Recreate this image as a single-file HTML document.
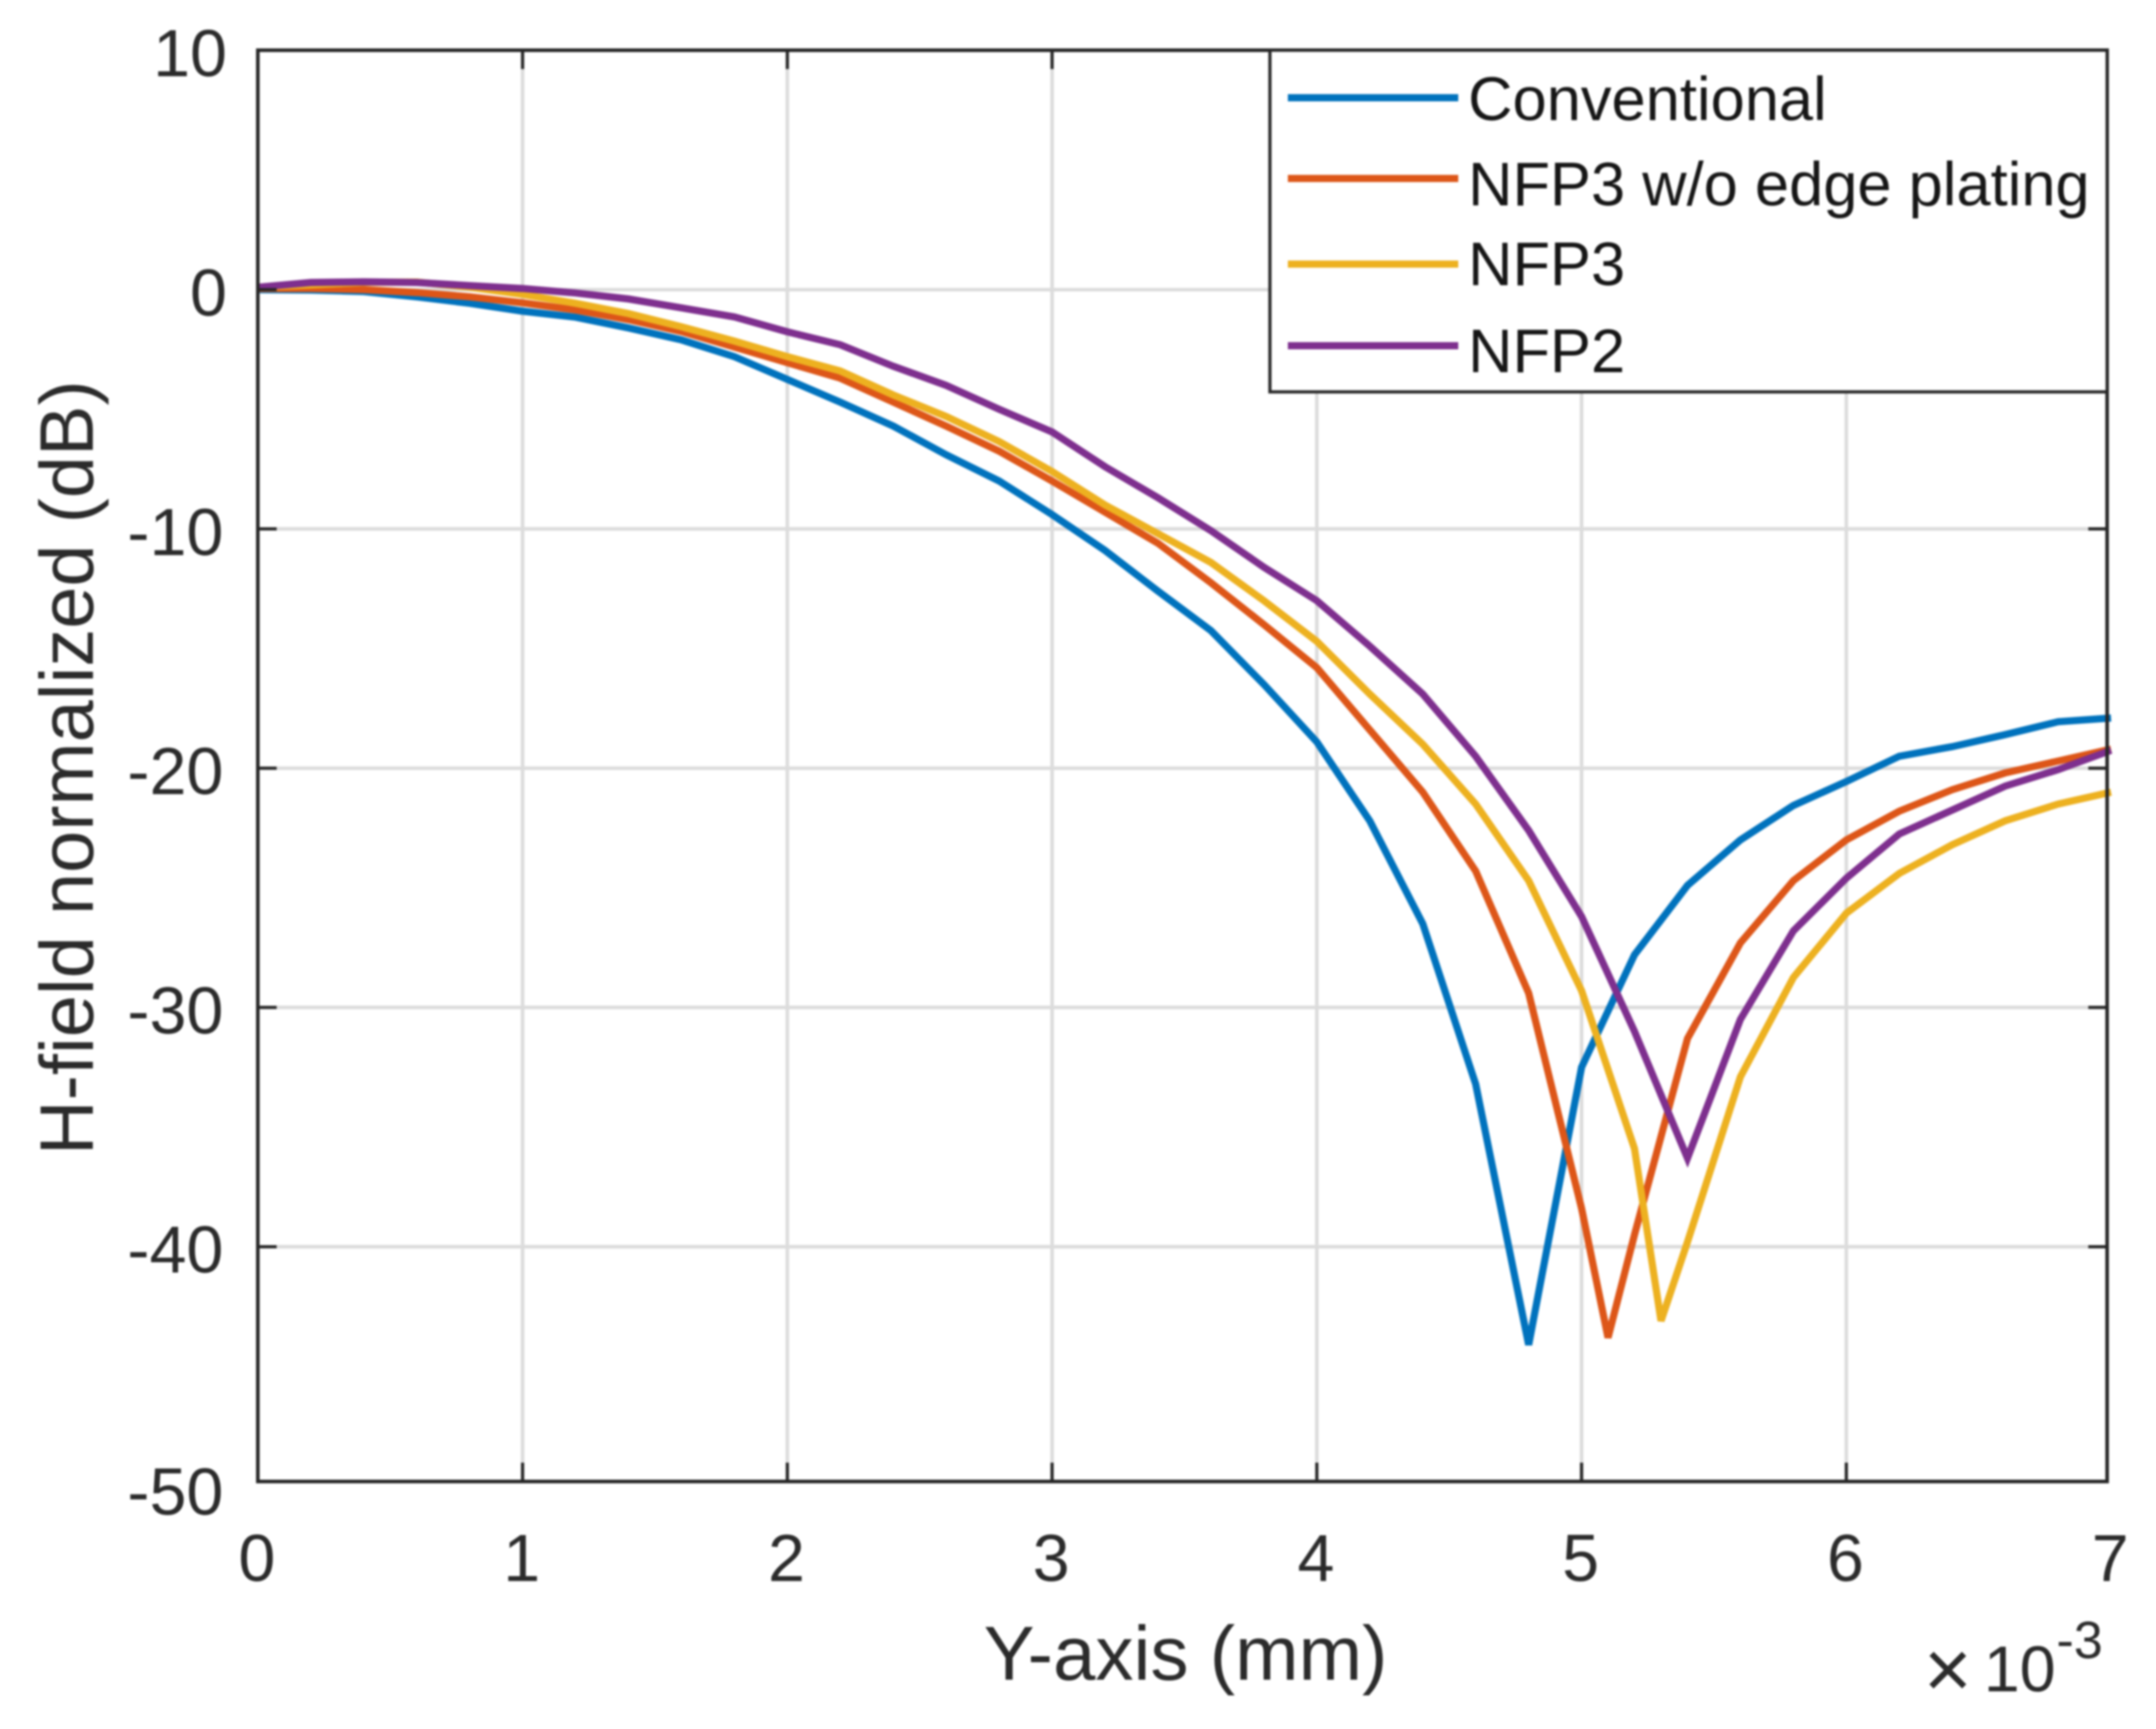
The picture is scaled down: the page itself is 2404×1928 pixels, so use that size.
<!DOCTYPE html>
<html lang="en">
<head>
<meta charset="utf-8">
<title>H-field normalized vs Y-axis</title>
<style>
html,body{margin:0;padding:0;background:#fff;width:2404px;height:1928px;overflow:hidden}
svg{display:block;filter:blur(1px)}
text{font-family:"Liberation Sans",Arial,sans-serif;fill:#2b2b2b;font-variant-ligatures:none}
</style>
</head>
<body>
<svg id="chart" xmlns="http://www.w3.org/2000/svg" width="2404" height="1928" viewBox="0 0 2404 1928">
  <rect x="0" y="0" width="2404" height="1928" fill="#ffffff"/>
  <g id="grid"></g>
  <g id="series"></g>
  <g id="ticks"></g>
  <rect x="287.5" y="56" width="2062" height="1596" fill="none" stroke="#262626" stroke-width="4"/>
  <g id="xlabels"></g>
  <g id="ylabels"></g>
  <text x="1322" y="1873" font-size="85" text-anchor="middle">Y-axis (mm)</text>
  <text transform="translate(103.5 856) rotate(-90)" font-size="84.5" text-anchor="middle">H-field normalized (dB)</text>
  <g>
    <text x="2145" y="1893" font-size="92" fill="#555">×</text>
    <text x="2212" y="1886" font-size="72">10</text>
    <text x="2293" y="1849" font-size="58">-3</text>
  </g>
  <g id="legend">
    <rect x="1416" y="56" width="933.5" height="381" fill="#ffffff" stroke="#262626" stroke-width="3.5"/>
  </g>
</svg>
<script>
// Tick labels
var xTickValues = [0, 1, 2, 3, 4, 5, 6, 7];
var yTickValues = [10, 0, -10, -20, -30, -40, -50];

// Series names and colours
var seriesNames = ["Conventional", "NFP3 w/o edge plating", "NFP3", "NFP2"];
var seriesColors = ["#0072BD", "#DD5618", "#EDB120", "#7E2F8E"];

// Position along Y-axis (in units of 1e-3 mm) and field values (dB)
var xConventional = [0,0.2,0.4,0.6,0.8,1,1.2,1.4,1.6,1.8,2,2.2,2.4,2.6,2.8,3,3.2,3.4,3.6,3.8,4,4.2,4.4,4.6,4.8,5,5.2,5.4,5.6,5.8,6,6.2,6.4,6.6,6.8,7];
var yConventional = [0,-0.02,-0.08,-0.3,-0.57,-0.9,-1.15,-1.6,-2.1,-2.8,-3.75,-4.7,-5.7,-6.9,-8,-9.4,-10.9,-12.6,-14.25,-16.5,-18.9,-22.2,-26.5,-33.2,-44.1,-32.5,-27.8,-24.9,-23,-21.56,-20.56,-19.5,-19.1,-18.6,-18.06,-17.9];

var xNfp3NoEdge = [0,0.2,0.4,0.6,0.8,1,1.2,1.4,1.6,1.8,2,2.2,2.4,2.6,2.8,3,3.2,3.4,3.6,3.8,4,4.2,4.4,4.6,4.8,5,5.1,5.2,5.4,5.6,5.8,6,6.2,6.4,6.6,6.8,7];
var yNfp3NoEdge = [0.05,0.05,0,-0.12,-0.3,-0.55,-0.85,-1.25,-1.75,-2.4,-3.05,-3.7,-4.7,-5.7,-6.75,-8,-9.3,-10.6,-12.25,-14,-15.8,-18.4,-21,-24.3,-29.4,-38.4,-43.8,-39.5,-31.3,-27.3,-24.7,-23,-21.8,-20.9,-20.2,-19.7,-19.2];

var xNfp3 = [0,0.2,0.4,0.6,0.8,1,1.2,1.4,1.6,1.8,2,2.2,2.4,2.6,2.8,3,3.2,3.4,3.6,3.8,4,4.2,4.4,4.6,4.8,5,5.2,5.3,5.4,5.6,5.8,6,6.2,6.4,6.6,6.8,7];
var yNfp3 = [0.1,0.2,0.3,0.32,0.1,-0.2,-0.57,-1,-1.55,-2.15,-2.8,-3.4,-4.4,-5.3,-6.35,-7.6,-9,-10.2,-11.4,-13,-14.7,-16.9,-19,-21.5,-24.7,-29.3,-35.9,-43.1,-39.8,-32.9,-28.75,-26.06,-24.4,-23.2,-22.2,-21.5,-21];

var xNfp2 = [0,0.2,0.4,0.6,0.8,1,1.2,1.4,1.6,1.8,2,2.2,2.4,2.6,2.8,3,3.2,3.4,3.6,3.8,4,4.2,4.4,4.6,4.8,5,5.2,5.4,5.6,5.8,6,6.2,6.4,6.6,6.8,7];
var yNfp2 = [0.1,0.3,0.33,0.3,0.17,0.05,-0.14,-0.39,-0.76,-1.14,-1.76,-2.3,-3.2,-4,-5,-5.95,-7.4,-8.7,-10.07,-11.6,-13,-14.9,-16.9,-19.5,-22.6,-26.2,-31,-36.3,-30.5,-26.8,-24.6,-22.75,-21.75,-20.75,-20.06,-19.25];

var xSeries = [xConventional, xNfp3NoEdge, xNfp3, xNfp2];
var ySeries = [yConventional, yNfp3NoEdge, yNfp3, yNfp2];

var NS = "http://www.w3.org/2000/svg";
var PLOT_LEFT = 287.5, PLOT_RIGHT = 2349.5, PLOT_TOP = 56, PLOT_BOTTOM = 1652;

function xScale(v) { return 287.5 + v * 295.2; }
function yScale(v) { return 323 - v * 26.68; }

function make(tag, attrs, parent) {
  var el = document.createElementNS(NS, tag);
  for (var k in attrs) { el.setAttribute(k, attrs[k]); }
  parent.appendChild(el);
  return el;
}

var gridG = document.getElementById("grid");
var ticksG = document.getElementById("ticks");
var xLabG = document.getElementById("xlabels");
var yLabG = document.getElementById("ylabels");
var seriesG = document.getElementById("series");
var legendG = document.getElementById("legend");

xTickValues.forEach(function (t) {
  var px = Math.min(xScale(t), PLOT_RIGHT);
  if (t > 0 && t < 7) {
    var g = make("line", {x1: px, x2: px, y1: PLOT_TOP, y2: PLOT_BOTTOM, stroke: "#dcdcdc", "stroke-width": 4}, gridG);
    
    
    var tb = make("line", {x1: px, x2: px, y1: PLOT_BOTTOM, y2: PLOT_BOTTOM - 21, stroke: "#262626", "stroke-width": 3.5}, ticksG);
    
    
    var tt = make("line", {x1: px, x2: px, y1: PLOT_TOP, y2: PLOT_TOP + 21, stroke: "#262626", "stroke-width": 3.5}, ticksG);
    
    
  }
  var lab = make("text", {x: xScale(t) - 1, y: 1763, "font-size": 74, "text-anchor": "middle"}, xLabG);
  lab.textContent = String(t);
  
  
});

yTickValues.forEach(function (t) {
  var py = yScale(t);
  if (t < 10 && t > -50) {
    var g = make("line", {x1: PLOT_LEFT, x2: PLOT_RIGHT, y1: py, y2: py, stroke: "#dcdcdc", "stroke-width": 4}, gridG);
    
    
    var tl = make("line", {x1: PLOT_LEFT, x2: PLOT_LEFT + 21, y1: py, y2: py, stroke: "#262626", "stroke-width": 3.5}, ticksG);
    
    
    var tr = make("line", {x1: PLOT_RIGHT, x2: PLOT_RIGHT - 21, y1: py, y2: py, stroke: "#262626", "stroke-width": 3.5}, ticksG);
    
    
  }
  var lab = make("text", {x: t >= 0 ? 253 : 249, y: (t === -50 ? py + 32 : py + 29), "font-size": 74, "text-anchor": "end"}, yLabG);
  lab.textContent = String(t);
  
  
});

ySeries.forEach(function (vals, i) {
  var xs = xSeries[i];
  var pts = vals.map(function (v, j) { return xScale(xs[j]).toFixed(1) + "," + yScale(v).toFixed(1); }).join(" ");
  var line = make("polyline", {points: pts, fill: "none", stroke: seriesColors[i], "stroke-width": 8, "stroke-linejoin": "miter", "stroke-miterlimit": 4}, seriesG);
  
  
});

var legendLineY = [109, 199, 294.5, 385.5];
var legendTextY = [134, 229, 318, 415];
seriesNames.forEach(function (name, i) {
  var sample = make("line", {x1: 1436, x2: 1626, y1: legendLineY[i], y2: legendLineY[i], stroke: seriesColors[i], "stroke-width": 8}, legendG);
  
  
  var label = make("text", {x: 1637, y: legendTextY[i], "font-size": 68.5, style: "fill:#161616"}, legendG);
  label.textContent = name;
  
  
});
</script>
</body>
</html>
